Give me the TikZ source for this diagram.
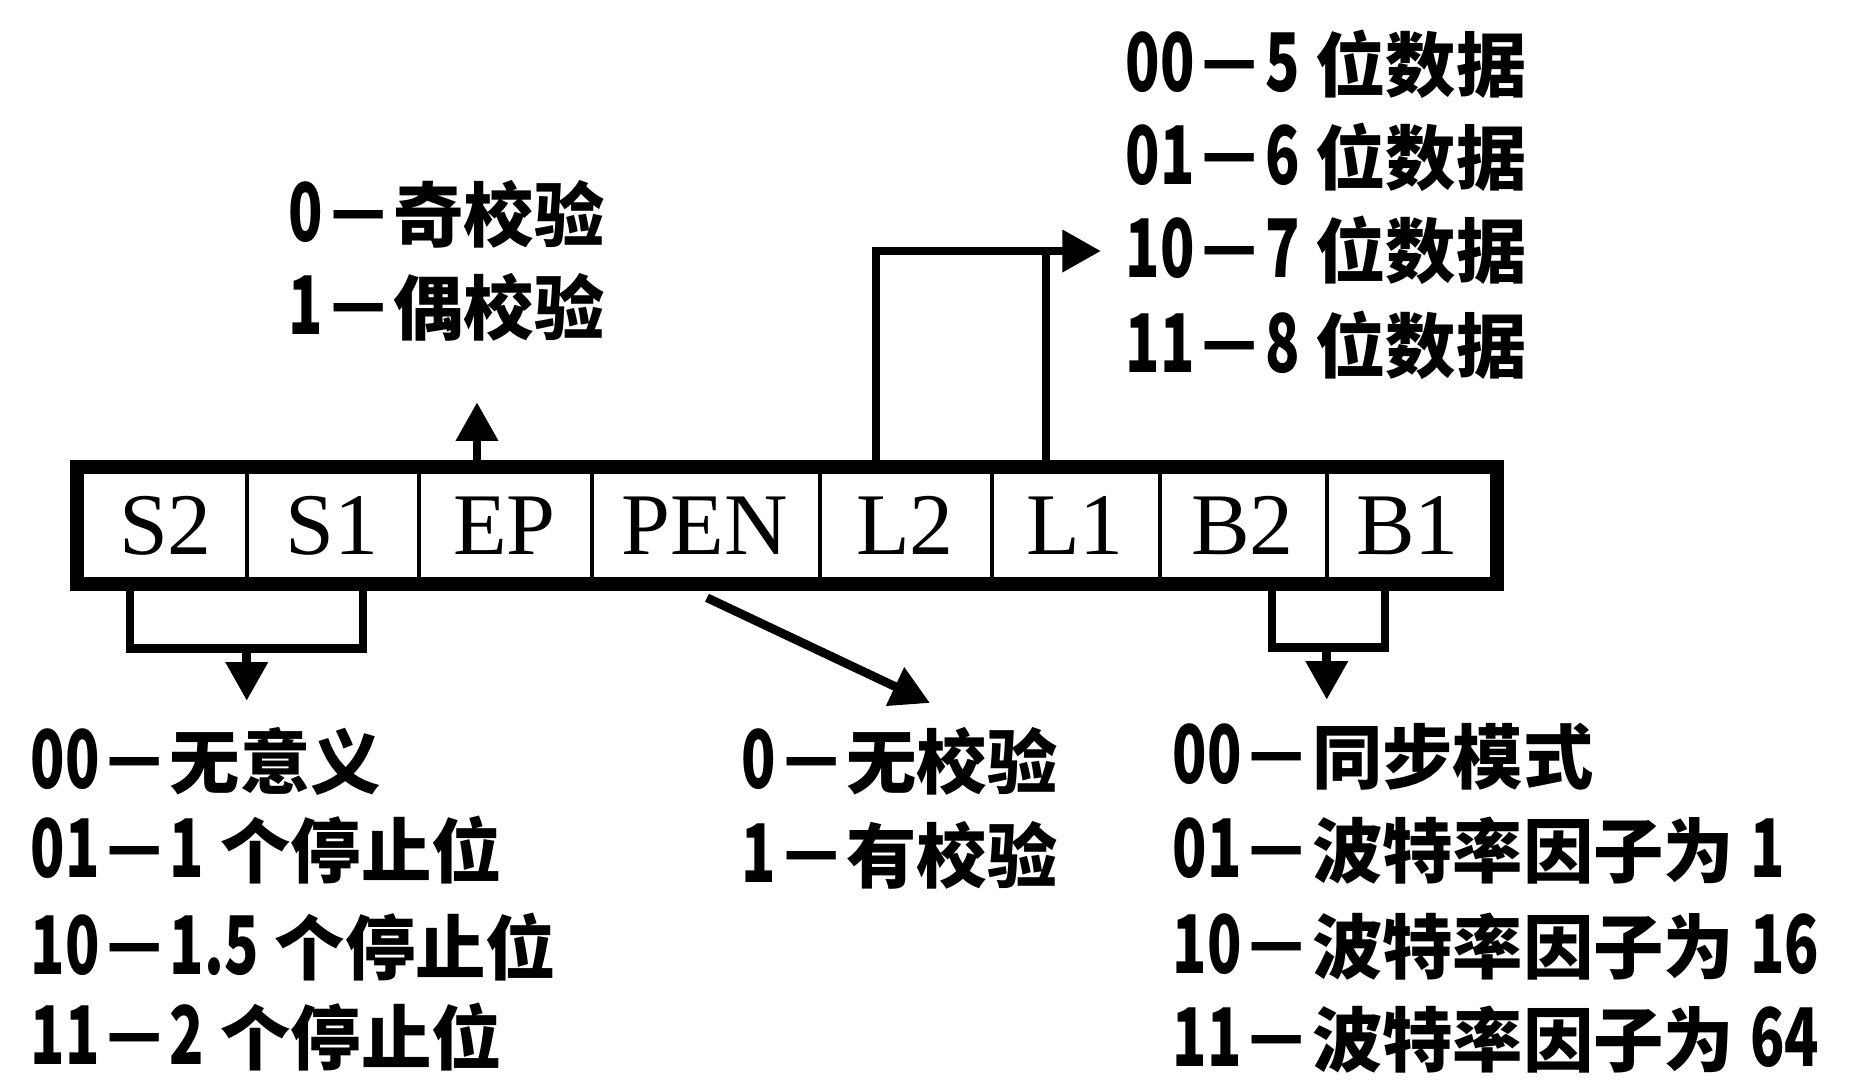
\documentclass[tikz,border=0pt]{standalone}
\usepackage{fontspec}
\setmainfont{Liberation Serif}
\newfontfamily\cjk{Noto Sans CJK SC}
\newfontfamily\cjkd{Noto Sans CJK SC}[FakeStretch=0.7]
\newcommand\dg[1]{{\cjkd\fontsize{23}{24}\selectfont #1}}
\usetikzlibrary{arrows.meta}
\begin{document}
\begin{tikzpicture}[x=0.01cm,y=-0.01cm,
  cell/.style={minimum height=1.29cm, inner sep=0pt, font=\fontsize{25}{28}\selectfont},
  lbl/.style={anchor=west, inner sep=0pt, text height=17.6pt, text depth=2.4pt,
              font=\cjk\bfseries\fontsize{20}{24}\selectfont},
  conn/.style={line width=2.5pt, line cap=rect, line join=miter},
  arr/.style={line width=2.5pt, line join=miter, -{Triangle[width=11.5pt,length=11pt]}},
  frame/.style={line width=4pt},
  div/.style={line width=1.2pt}]
\useasboundingbox (0,0) rectangle (1857,1081);

% register cells
\node[cell, minimum width=1.61cm] (S2)  at (165.5,525.5) {S2};
\node[cell, minimum width=1.72cm] (S1)  at (332,525.5)   {S1};
\node[cell, minimum width=1.73cm] (EP)  at (504.5,525.5) {EP};
\node[cell, minimum width=2.28cm] (PEN) at (705,525.5)   {PEN};
\node[cell, minimum width=1.72cm] (L2)  at (905,525.5)   {L2};
\node[cell, minimum width=1.68cm] (L1)  at (1075,525.5)  {L1};
\node[cell, minimum width=1.67cm] (B2)  at (1242.5,525.5){B2};
\node[cell, minimum width=1.63cm] (B1)  at (1407.5,525.5){B1};

\draw[frame] ([shift={(-7,7)}]S2.north west) rectangle ([shift={(7,-7)}]B1.south east);
\foreach \a in {S2,S1,EP,PEN,L2,L1,B2}
  \draw[div] (\a.north east) -- (\a.south east);

% labels
\node[lbl] (d00) at (1125,65)  {\dg{00}－\dg{5} 位数据};
\node[lbl] (d01) at (1125,158) {\dg{01}－\dg{6} 位数据};
\node[lbl] (d10) at (1125,251) {\dg{10}－\dg{7} 位数据};
\node[lbl] (d11) at (1125,346) {\dg{11}－\dg{8} 位数据};

\node[lbl] (p0) at (288,215) {\dg{0}－奇校验};
\node[lbl] (p1) at (288,308) {\dg{1}－偶校验};

\node[lbl] (s00) at (30,762)  {\dg{00}－无意义};
\node[lbl] (s01) at (30,851)  {\dg{01}－\dg{1} 个停止位};
\node[lbl] (s10) at (30,948)  {\dg{10}－\dg{1.5} 个停止位};
\node[lbl] (s11) at (30,1038) {\dg{11}－\dg{2} 个停止位};

\node[lbl] (e0) at (741,762) {\dg{0}－无校验};
\node[lbl] (e1) at (741,856) {\dg{1}－有校验};

\node[lbl] (b00) at (1172,757)  {\dg{00}－同步模式};
\node[lbl] (b01) at (1172,851)  {\dg{01}－波特率因子为 \dg{1}};
\node[lbl] (b10) at (1172,947)  {\dg{10}－波特率因子为 \dg{16}};
\node[lbl] (b11) at (1172,1040) {\dg{11}－波特率因子为 \dg{64}};

% connectors
\draw[arr] ([shift={(-27.5,0)}]EP.north) -- ([shift={(-27.5,-58)}]EP.north);

\draw[conn] ([shift={(-29,0)}]L1.north) -- ([shift={(-29,-209)}]L1.north);
\draw[arr] ([shift={(-29,0)}]L2.north) |- ([shift={(-24,0)}]d10.west);

\draw[conn] ([shift={(-35.5,0)}]S2.south) -- ([shift={(-35.5,58)}]S2.south) -| ([shift={(31,0)}]S1.south);
\draw[arr] ([shift={(0,58)}]S2.south east) -- ([shift={(0,110)}]S2.south east);

\draw[conn] ([shift={(29.5,0)}]B2.south) -- ([shift={(29.5,57)}]B2.south) -| ([shift={(-22.5,0)}]B1.south);
\draw[arr] ([shift={(0,57)}]B2.south east) -- ([shift={(0,109)}]B2.south east);

\draw[arr] ([shift={(2,7)}]PEN.south) -- ([shift={(189,-59)}]e0.west);
\end{tikzpicture}
\end{document}
